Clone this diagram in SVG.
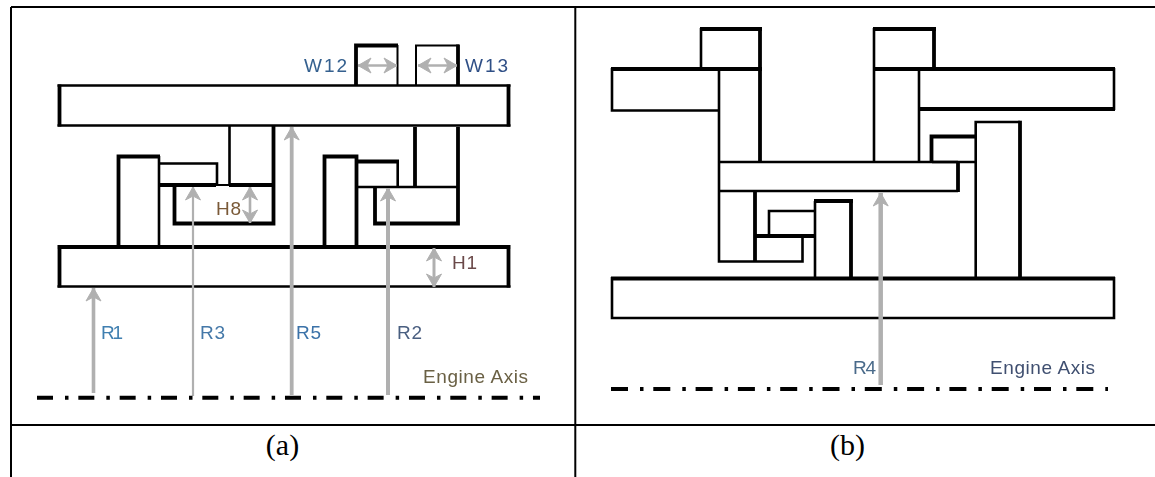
<svg xmlns="http://www.w3.org/2000/svg" width="1155" height="477" viewBox="0 0 1155 477">
<style>
.k{fill:none;stroke:#000;stroke-linecap:butt}
.a{stroke-width:2}
.b{stroke-width:2.6}
.c{stroke-width:3.8}
.g{fill:none;stroke:#b0b0b0}
.t{font-family:"Liberation Sans",Arial,sans-serif;font-size:19px}
.u{font-family:"Liberation Serif","Times New Roman",serif;font-size:30px;fill:#000;text-anchor:middle}
.x{fill:none;stroke:#000;stroke-width:4}
</style>
<defs>
<filter id="soft" x="-2%" y="-2%" width="104%" height="104%"><feGaussianBlur stdDeviation="0.5"/></filter>
<marker id="h" markerUnits="userSpaceOnUse" markerWidth="24" markerHeight="24" refX="14" refY="12" orient="auto-start-reverse" overflow="visible">
<path d="M1,4.500 L14,12 L1,19.500 L5,12 Z" fill="#b0b0b0" stroke="#b0b0b0" stroke-width="1" stroke-linejoin="round"/>
</marker>
</defs>
<rect width="1155" height="477" fill="#fff"/>
<g id="table" fill="none" stroke="#000" stroke-width="2">
<path d="M11,7H1155M11,7V477M11,425H1155M575.3,7V477"/>
</g>
<g id="panel-a" filter="url(#soft)">
<g id="a-shell-top">
<path class="k b" d="M57.500,85.500H510.500M57.500,125.500H510.500"/>
<path class="k c" d="M59.500,84.500V126.500M508.500,84.500V126.500"/>
</g>
<g id="a-shell-bottom">
<path class="k c" d="M57.500,247H510.500M59.500,245.500V287.500M508.500,245.500V287.500"/>
<path class="k b" d="M57.500,286.500H510.500"/>
</g>
<g id="a-top-boxes">
<path class="k c" d="M356,85V45.500H398"/>
<path class="k a" d="M397.500,45V85M416,85V45.500H459"/>
<path class="k c" d="M458,44.500V85"/>
</g>
<g id="a-left-parts">
<path class="k c" d="M118.500,247V156.500H160"/>
<path class="k b" d="M159,156V247M158,163.500H217V186M229.500,126V186"/>
<path class="k c" d="M159,185H216M229,185H273.500M273.500,126V223.500H174.500V185"/>
<path class="k a" d="M216,185H229"/>
</g>
<g id="a-right-parts">
<path class="k c" d="M324.500,247V156.500H356.500V247M356.500,161.500H399"/>
<path class="k b" d="M397.700,161V188M357,187H458"/>
<path class="k c" d="M415,127V187M458,127V223.500H375V187"/>
</g>
<g id="connectors">
<path class="g" stroke-width="3.600" marker-end="url(#h)" d="M93.500,393V288"/>
<path class="g" stroke-width="2.200" marker-end="url(#h)" d="M193,396V187"/>
<path class="g" stroke-width="3.800" marker-end="url(#h)" d="M291.700,395V127"/>
<path class="g" stroke-width="4" marker-end="url(#h)" d="M388,395V188"/>
<path class="g" stroke-width="2.600" marker-start="url(#h)" marker-end="url(#h)" d="M250,187V223"/>
<path class="g" stroke-width="3" marker-start="url(#h)" marker-end="url(#h)" d="M434,248V287"/>
<path class="g" stroke-width="2.600" marker-start="url(#h)" marker-end="url(#h)" d="M358,65.500H397"/>
<path class="g" stroke-width="2.600" marker-start="url(#h)" marker-end="url(#h)" d="M418,65.500H457"/>
</g>
<path id="a-axis" class="x" stroke-dasharray="16 12 3.500 9.830" d="M37,397.700H540"/>
<g id="a-labels">
<text class="t" x="304" y="72" textLength="43" fill="#34608f">W12</text>
<text class="t" x="465" y="72" textLength="43" fill="#2f4f86">W13</text>
<text class="t" x="216" y="215" textLength="25" fill="#7a5a38">H8</text>
<text class="t" x="452" y="269" textLength="25" fill="#6b4a4a">H1</text>
<text class="t" x="101" y="339" textLength="22" fill="#3f7fb0">R1</text>
<text class="t" x="200" y="339" textLength="25" fill="#4478a8">R3</text>
<text class="t" x="296" y="339" textLength="25" fill="#3a72a8">R5</text>
<text class="t" x="397" y="339" textLength="25" fill="#4a5f80">R2</text>
<text class="t" x="423" y="383" textLength="105" fill="#6a6044">Engine Axis</text>
</g>
</g>
<g id="panel-b" filter="url(#soft)">
<g id="b-shell-left">
<path class="k c" d="M611,69H762M762,29H700"/>
<path class="k b" d="M701,28V69M612,68V110.500H719"/>
<path class="k c" d="M760,27V162"/>
</g>
<g id="b-column">
<path class="k b" d="M719,69V261.500H802.500V236M718,162H958M718,191H958"/>
<path class="k c" d="M958,161V192"/>
</g>
<g id="b-shell-right">
<path class="k c" d="M873,69H1115M873,29H936M934,27V68M918,109H1115"/>
<path class="k b" d="M874,28V162M919,69V162M1114,68V110"/>
</g>
<g id="b-stack">
<path class="k c" d="M931.500,162V136.500H975"/>
<path class="k b" d="M932,162H975M975.700,278V122H1020"/>
<path class="k c" d="M1020,120.700V278"/>
</g>
<g id="b-lower-parts">
<path class="k c" d="M755,191V261M755,236H815M814,201H853M851,199V278"/>
<path class="k b" d="M769,236V211H815M815,201V278"/>
</g>
<g id="b-shell-bottom">
<path class="k c" d="M611,278.500H1115"/>
<path class="k b" d="M612,277V318H1114V277"/>
</g>
<path id="b-arrow" class="g" stroke-width="4.500" marker-end="url(#h)" d="M880.700,385V193"/>
<path id="b-axis" class="x" stroke-dasharray="17 12 3.500 9.800" d="M611,389H1108"/>
<g id="b-labels">
<text class="t" x="853" y="374" textLength="23" fill="#4a6a8a">R4</text>
<text class="t" x="990" y="374" textLength="105" fill="#3f4f70">Engine Axis</text>
</g>
</g>
<g id="captions">
<text class="u" x="282.500" y="455">(a)</text>
<text class="u" x="847.500" y="455">(b)</text>
</g>
</svg>
